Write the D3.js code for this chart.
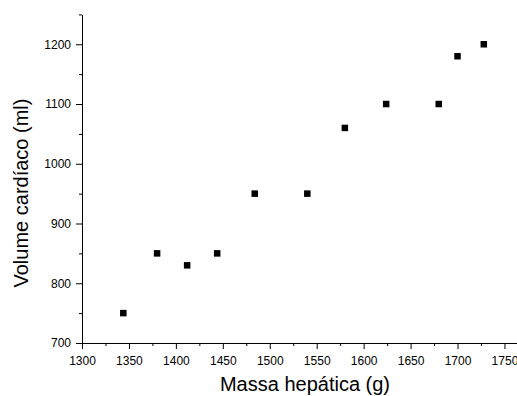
<!DOCTYPE html>
<html>
<head>
<meta charset="utf-8">
<script src="https://cdn.jsdelivr.net/npm/d3@7"></script>
<style>
  body { margin: 0; background: #fff; }
  svg { display: block; overflow: hidden; }
  .tick text { font-family: "Liberation Sans", Arial, sans-serif; font-size: 12px; fill: #000; }
</style>
</head>
<body>
<div id="chart"></div>
<script>
// massa hepática (g) vs volume cardíaco (ml)
const massa = [1344, 1380, 1412, 1444, 1484, 1540, 1580, 1624, 1680, 1700, 1728];
const volume = [750, 850, 830, 850, 950, 950, 1060, 1100, 1100, 1180, 1200];
const xTicks = [1300, 1350, 1400, 1450, 1500, 1550, 1600, 1650, 1700, 1750, 1800];
const yTicks = [700, 800, 900, 1000, 1100, 1200];

var width = 517, height = 396;

var svg = d3.select("#chart")
    .append("svg")
    .attr("width", width)
    .attr("height", height);

// x axis runs past the right edge, as in the original figure
var x = d3.scaleLinear()
    .domain([1300, 1800])
    .range([82, 551.4]);

var y = d3.scaleLinear()
    .domain([700, 1250])
    .range([343, 14.4]);

var x0 = y(700), y0 = x(1300);

// minor ticks first
svg.append("g")
    .attr("transform", "translate(0," + x0 + ")")
    .call(d3.axisBottom(x).tickValues(d3.range(1325, 1800, 50)).tickSize(3).tickFormat(""))
    .call(g => g.select(".domain").remove());
svg.append("g")
    .attr("transform", "translate(" + y0 + ",0)")
    .call(d3.axisLeft(y).tickValues(d3.range(750, 1300, 100)).tickSize(3).tickFormat(""))
    .call(g => g.select(".domain").remove());

// major axes
svg.append("g")
    .attr("transform", "translate(0," + x0 + ")")
    .call(d3.axisBottom(x).tickValues(xTicks).tickSize(6).tickSizeOuter(0).tickPadding(7).tickFormat(d3.format("d")));
svg.append("g")
    .attr("transform", "translate(" + y0 + ",0)")
    .call(d3.axisLeft(y).tickValues(yTicks).tickSize(6).tickSizeOuter(0).tickPadding(5).tickFormat(d3.format("d")));

svg.selectAll(".domain, .tick line").attr("stroke", "#000");

// points
var pts = massa.map((m, i) => ({ m: m, v: volume[i] }));
var s = 6.5;
svg.append("g")
    .selectAll("rect")
    .data(pts)
    .enter().append("rect")
    .attr("x", d => x(d.m) - s / 2)
    .attr("y", d => y(d.v) - s / 2)
    .attr("width", s)
    .attr("height", s)
    .attr("fill", "#000");

// axis titles
svg.append("text")
    .attr("x", 305)
    .attr("y", 391)
    .attr("text-anchor", "middle")
    .style("font-family", "'Liberation Sans', Arial, sans-serif")
    .style("font-size", "20px")
    .text("Massa hepática (g)");

svg.append("text")
    .attr("transform", "translate(28,193) rotate(-90)")
    .attr("text-anchor", "middle")
    .style("font-family", "'Liberation Sans', Arial, sans-serif")
    .style("font-size", "20px")
    .text("Volume cardíaco (ml)");
</script>
</body>
</html>
